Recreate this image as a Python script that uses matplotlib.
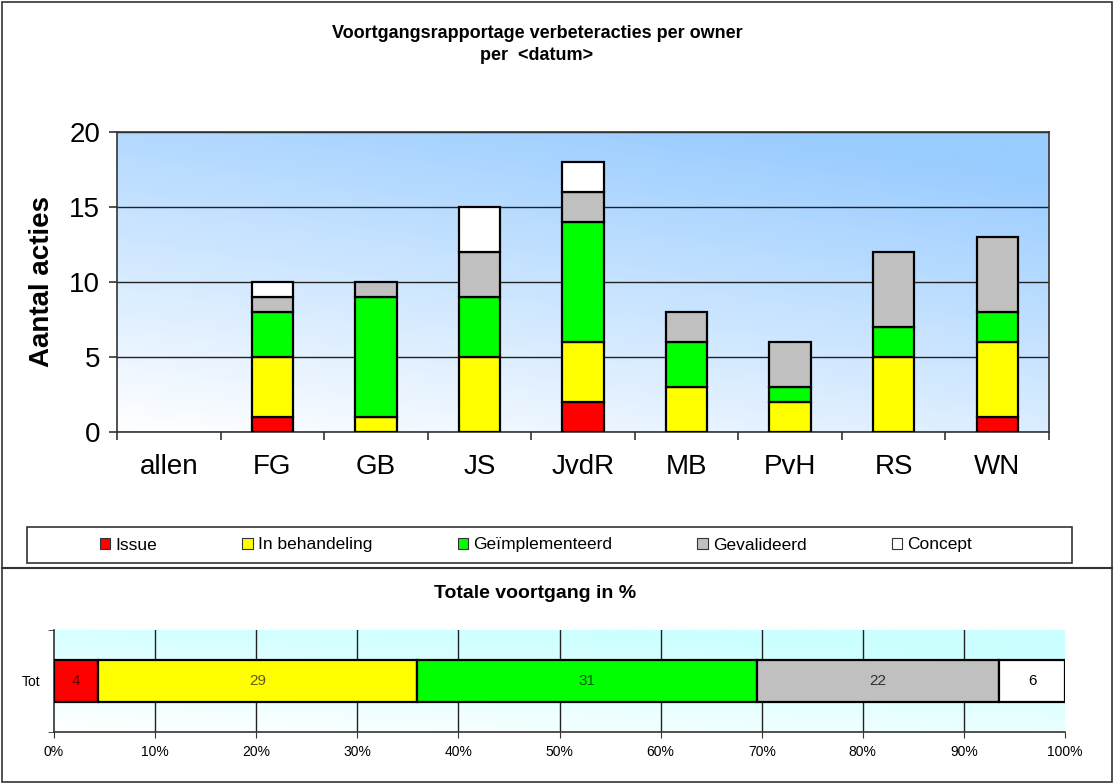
import numpy as np
import matplotlib.pyplot as plt
from matplotlib.colors import LinearSegmentedColormap
from matplotlib.patches import Rectangle
from matplotlib.lines import Line2D

plt.rcParams['font.family'] = ['Liberation Sans', 'DejaVu Sans']

# data per owner
owners = ['allen', 'FG', 'GB', 'JS', 'JvdR', 'MB', 'PvH', 'RS', 'WN']
issue       = [0, 1, 0, 0, 2, 0, 0, 0, 1]
behandeling = [0, 4, 1, 5, 4, 3, 2, 5, 5]
geimpl      = [0, 3, 8, 4, 8, 3, 1, 2, 2]
gevalideerd = [0, 1, 1, 3, 2, 2, 3, 5, 5]
concept     = [0, 1, 0, 3, 2, 0, 0, 0, 0]

status_names = ['Issue', 'In behandeling', 'Geïmplementeerd', 'Gevalideerd', 'Concept']
status_colors = ['#FF0000', '#FFFF00', '#00FF00', '#C0C0C0', '#FFFFFF']
label_colors = ['#600000', '#606000', '#006000', '#303030', '#000000']
y_ticks = [0, 5, 10, 15, 20]
pct_ticks = [0, 10, 20, 30, 40, 50, 60, 70, 80, 90, 100]

series = [issue, behandeling, geimpl, gevalideerd, concept]

W, H = 1115, 784
fig = plt.figure(figsize=(W / 100, H / 100), dpi=100)

def box(x, y, w, h):
    # pixel coords (top-left origin) -> figure fraction
    return [x / W, 1 - (y + h) / H, w / W, h / H]

# frame, separator
fig.patches.append(Rectangle((2 / W, 2 / H), 1110 / W, 780 / H, transform=fig.transFigure,
                             fill=False, edgecolor='#333333', lw=1.2))
fig.lines.append(Line2D([2 / W, 1112 / W], [1 - 568 / H, 1 - 568 / H], transform=fig.transFigure,
                        color='#333333', lw=1.5))

# gradient helper
def gradient(ax, c_hi, wx, wy):
    n = 200
    gx, gy = np.meshgrid(np.linspace(0, 1, n), np.linspace(0, 1, n))
    t = wx * gx + wy * gy
    cmap = LinearSegmentedColormap.from_list('g', ['#FFFFFF', c_hi])
    ax.imshow(t, cmap=cmap, extent=[0, 1, 0, 1], origin='lower', transform=ax.transAxes,
              aspect='auto', zorder=0, vmin=0, vmax=1)

# ---- top chart
fig.text(537 / W, 1 - 33 / H, 'Voortgangsrapportage verbeteracties per owner',
         ha='center', va='center', fontsize=13, fontweight='bold')
fig.text(537 / W, 1 - 56 / H, 'per  <datum>', ha='center', va='center', fontsize=13, fontweight='bold')

ax = fig.add_axes(box(117, 132, 932, 300))
gradient(ax, '#99CCFF', 0.35, 0.75)
x = np.arange(len(owners))
bottom = np.zeros(len(owners))
for vals, name, col in zip(series, status_names, status_colors):
    vals = np.array(vals)
    edges = ['black' if v > 0 else 'none' for v in vals]
    ax.bar(x, vals, 0.4, bottom=bottom, color=col, edgecolor=edges, linewidth=1.6,
           label=name, zorder=3)
    bottom += vals
ax.set_xlim(-0.5, len(owners) - 0.5)
ax.set_ylim(0, 20)
ax.set_yticks(y_ticks)
ax.set_xticks(x)
ax.set_xticklabels(owners)
ax.set_xticks(np.arange(len(owners) + 1) - 0.5, minor=True)
ax.tick_params(axis='x', which='major', length=0, labelsize=20, pad=16)
ax.tick_params(axis='x', which='minor', length=6, direction='out', width=1.2, color='#333333')
ax.tick_params(axis='y', length=6, width=1.2, labelsize=20, color='#333333', pad=6)
ax.grid(axis='y', color='#222222', lw=1.0, zorder=1)
ax.set_ylabel('Aantal acties', fontsize=20, fontweight='bold', labelpad=10)
for s in ax.spines.values():
    s.set_color('#333333')
    s.set_linewidth(1.2)

# legend box
fig.patches.append(Rectangle((27 / W, 1 - 563 / H), 1045 / W, 36 / H, transform=fig.transFigure,
                             fill=False, edgecolor='#333333', lw=1.2))
leg_handles = [Rectangle((0, 0), 1, 1, facecolor=c, edgecolor='#333333', lw=0.8) for c in status_colors]
fig.legend(leg_handles, status_names, loc='center', bbox_to_anchor=(536 / W, 1 - 545 / H),
           ncol=5, frameon=False, fontsize=12.5, handlelength=0.6, handleheight=0.6,
           handletextpad=0.3, borderaxespad=0, columnspacing=4.9)

# ---- bottom chart
totals = [sum(s) for s in series]
pct = np.array(totals) / sum(totals) * 100

fig.text(535 / W, 1 - 593 / H, 'Totale voortgang in %', ha='center', va='center',
         fontsize=14, fontweight='bold')
ax2 = fig.add_axes(box(54, 630, 1011, 102))
gradient(ax2, '#CCFFFF', 0.4, 0.8)
left = 0
for p, n, col, lc in zip(pct, totals, status_colors, label_colors):
    ax2.barh(0, p, 0.41, left=left, color=col, edgecolor='black', linewidth=1.6, zorder=3)
    ax2.text(left + p / 2, 0, str(n), ha='center', va='center', fontsize=11, color=lc, zorder=4)
    left += p
ax2.set_xlim(0, 100)
ax2.set_ylim(-0.5, 0.5)
ax2.set_xticks(pct_ticks)
ax2.set_xticklabels([f'{t}%' for t in pct_ticks])
ax2.set_yticks([0])
ax2.set_yticklabels(['Tot'])
ax2.set_yticks([-0.5, 0.5], minor=True)
ax2.tick_params(axis='y', which='major', length=0, labelsize=10, pad=10)
ax2.tick_params(axis='y', which='minor', length=4, color='#333333')
ax2.tick_params(axis='x', length=4, labelsize=10, color='#333333', pad=5)
ax2.grid(axis='x', color='#222222', lw=1.0, zorder=1)
ax2.xaxis.get_gridlines()[0].set_visible(False)
ax2.xaxis.get_gridlines()[-1].set_visible(False)
for k in ['top', 'right']:
    ax2.spines[k].set_visible(False)
for k in ['left', 'bottom']:
    ax2.spines[k].set_color('#333333')
    ax2.spines[k].set_linewidth(1.2)

plt.savefig('out.png', dpi=100)
